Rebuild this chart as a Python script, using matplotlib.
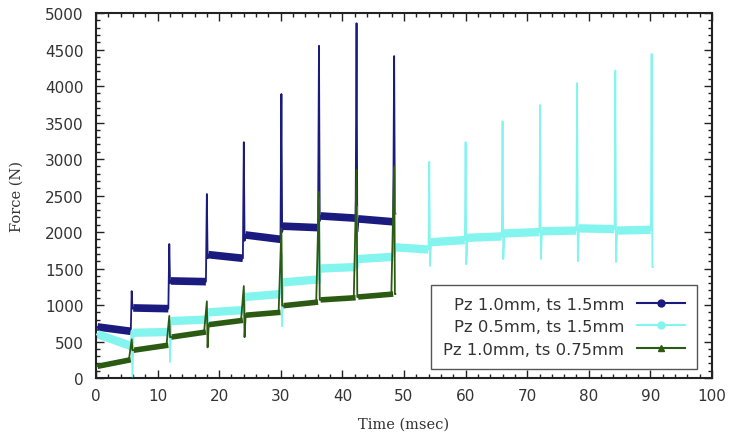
import matplotlib
matplotlib.use("Agg")
import matplotlib.pyplot as plt
from matplotlib.lines import Line2D
from matplotlib.ticker import MultipleLocator

# ---------------- data ----------------
# Pz 1.0mm, ts 1.5mm (dark blue)
blue_steps = [5.8, 11.9, 18.0, 24.0, 30.1, 36.2, 42.3, 48.4]
blue_start = [700, 960, 1330, 1690, 1960, 2080, 2220, 2180]
blue_end = [640, 950, 1320, 1640, 1900, 2060, 2190, 2140]
blue_peak = [1190, 1835, 2520, 3230, 3890, 4550, 4860, 4410]
blue_dip = [950, 1300, 1640, 1880, 2000, 2150, 2000, 2250]
blue_tend = 48.6

# Pz 0.5mm, ts 1.5mm (light cyan)
cyan_steps = [5.8, 11.9, 18.0, 24.0, 30.1, 36.2, 42.3, 48.4,
              54.1, 60.0, 66.0, 72.1, 78.1, 84.3, 90.2]
cyan_start = [600, 620, 780, 900, 1110, 1310, 1500, 1630,
              1790, 1860, 1920, 1980, 2010, 2050, 2020]
cyan_end = [440, 630, 800, 930, 1150, 1350, 1520, 1660,
            1760, 1890, 1940, 2000, 2020, 2040, 2030]
cyan_peak = [650, 800, 950, 1200, 1700, 2450, 2350, 2700,
             2960, 3230, 3515, 3740, 4040, 4210, 4440]
cyan_dip = [20, 220, 760, 900, 710, 1300, 1500, 1700,
            1535, 1560, 1630, 1630, 1600, 1590, 1520]
cyan_tend = 90.4

# Pz 1.0mm, ts 0.75mm (dark green)
green_steps = [5.8, 11.9, 18.0, 24.0, 30.1, 36.2, 42.3, 48.4]
green_start = [160, 380, 560, 730, 860, 990, 1070, 1110]
green_end = [250, 450, 630, 790, 900, 1040, 1100, 1150]
green_peak = [530, 850, 1050, 1260, 2050, 2550, 2850, 2900]
green_dip = [380, 560, 420, 560, 990, 1070, 1110, 1150]
green_tend = 48.6

labels = ["Pz 1.0mm, ts 1.5mm", "Pz 0.5mm, ts 1.5mm", "Pz 1.0mm, ts 0.75mm"]
xticks = [0, 10, 20, 30, 40, 50, 60, 70, 80, 90, 100]
yticks = [0, 500, 1000, 1500, 2000, 2500, 3000, 3500, 4000, 4500, 5000]

# ---------------- styles ----------------
c_blue = "#1b1a7e"
c_cyan = "#84f4ee"
c_green = "#2b5a12"


def trace(steps, start, end, peak, dip, tend, rise):
    """Polyline through read-off key points: plateau, rise to spike, drop."""
    xs, ys = [0.0], [start[0]]
    for k, s in enumerate(steps):
        xs += [s - rise, s, s + 0.12]
        ys += [end[k], peak[k], dip[k]]
        if k + 1 < len(start):
            xs.append(s + 0.3)
            ys.append(start[k + 1])
        else:
            xs.append(tend)
            ys.append(dip[k])
    return xs, ys


def plateaus(ax, steps, start, end, tend, color, lw):
    bounds = [0.0] + list(steps) + [tend]
    for k in range(len(start)):
        a, b = bounds[k] + 0.25, bounds[k + 1] - 0.15
        ax.plot([a, b], [start[k], end[k]], color=color, lw=lw,
                solid_capstyle="butt", zorder=2)


fig = plt.figure(figsize=(7.32, 4.35), dpi=100)
ax = fig.add_axes([0.1311, 0.1287, 0.8416, 0.8391])

series = [
    (blue_steps, blue_start, blue_end, blue_peak, blue_dip, blue_tend, c_blue, 0.15, 5.5),
    (cyan_steps, cyan_start, cyan_end, cyan_peak, cyan_dip, cyan_tend, c_cyan, 0.12, 6.0),
    (green_steps, green_start, green_end, green_peak, green_dip, green_tend, c_green, 0.45, 4.0),
]
for steps, st, en, pk, dp, te, col, rise, blw in series:
    plateaus(ax, steps, st, en, te, col, blw)
    xs, ys = trace(steps, st, en, pk, dp, te, rise)
    ax.plot(xs, ys, color=col, lw=1.3, zorder=3)

ax.set_xlim(0, 100)
ax.set_ylim(0, 5000)
ax.set_xticks(xticks)
ax.set_yticks(yticks)
ax.xaxis.set_minor_locator(MultipleLocator(2))
ax.yaxis.set_minor_locator(MultipleLocator(100))
ax.tick_params(which="both", direction="in", top=True, right=True,
               color="#222222", labelsize=11, labelcolor="#333333")
ax.tick_params(which="major", length=6, width=1.0)
ax.tick_params(which="minor", length=3, width=1.0)
ax.tick_params(axis="x", pad=7)
ax.tick_params(axis="y", pad=9)
for sp in ax.spines.values():
    sp.set_linewidth(1.5)
    sp.set_color("#222222")

ax.set_xlabel("Time (msec)", family="DejaVu Serif", fontsize=10.5,
              color="#333333", labelpad=10)
ax.set_ylabel("Force (N)", family="DejaVu Serif", fontsize=10.5,
              color="#333333", labelpad=15)

handles = [
    Line2D([], [], color=c_blue, lw=1.5, marker="o", ms=5, mfc=c_blue, mec=c_blue),
    Line2D([], [], color=c_cyan, lw=1.5, marker="o", ms=5, mfc=c_cyan, mec=c_cyan),
    Line2D([], [], color=c_green, lw=1.5, marker="^", ms=5, mfc=c_green, mec=c_green),
]
leg = ax.legend(handles, labels, loc="lower right", bbox_to_anchor=(0.976, 0.025),
                borderaxespad=0, markerfirst=False, fancybox=False, fontsize=11.8,
                handlelength=2.9, handletextpad=0.8, labelspacing=0.45,
                borderpad=0.75, framealpha=1, edgecolor="#555555")
leg.get_frame().set_linewidth(1.0)
for t in leg.get_texts():
    t.set_color("#333333")

fig.savefig("out.png", dpi=100)
